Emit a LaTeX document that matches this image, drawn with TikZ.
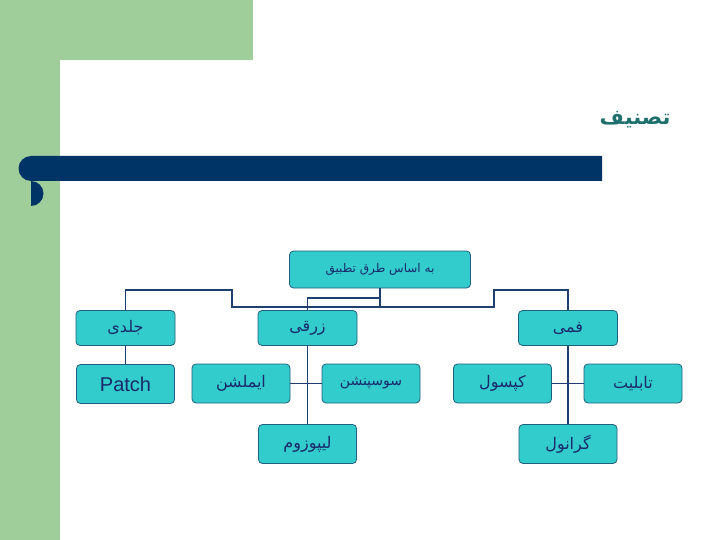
\documentclass[tikz,border=0pt]{standalone}
\usepackage{fontspec}
\setmainfont{Liberation Sans}
\newfontfamily\arabicfont[Script=Arabic]{DejaVu Sans}
\TeXXeTstate=1
\definecolor{bgreen}{HTML}{9FCE9A}
\definecolor{bar}{HTML}{003366}
\definecolor{ttl}{HTML}{1F6F6F}
\definecolor{boxfill}{HTML}{33CCCC}
\definecolor{boxline}{HTML}{1F5F7F}
\definecolor{txt}{HTML}{1A2A6A}
\definecolor{wire}{HTML}{1F3F6F}
\begin{document}
\begin{tikzpicture}[x=1pt,y=-1pt,
  bx/.style={draw=boxline,line width=0.8pt,fill=boxfill,rounded corners=4pt,inner sep=0pt,text=txt},
  wr/.style={draw=wire,line width=1.6pt}]
\useasboundingbox (0,0) rectangle (720,540);
\fill[white] (0,0) rectangle (720,540);
\fill[bgreen] (0,0) rectangle (60,540);
\fill[bgreen] (0,0) rectangle (253,60);
\fill[white] (60,540) -- (60,82) arc[start angle=180,end angle=90,radius=22] -- (253,60) -- (253,540) -- cycle;
\fill[white] (253,60) rectangle (720,540);
\fill[bar] (31,156) -- (602,156) -- (602,181) -- (31,181) arc[start angle=90,end angle=270,radius=-12.5] -- cycle;
\fill[bar] (31,168.5) circle[radius=12.5];
\node[text=ttl,font=\arabicfont\bfseries\fontsize{21}{24}\selectfont,anchor=east] (title) at (674,120) {\beginR تصنيف\endR};
\def\B#1#2#3#4#5#6{\node[bx,minimum width=#3-#1,minimum height=#4-#2,font=#6] (#5) at ({(#1+#3)/2},{(#2+#4)/2}) {};}
\node[bx,minimum width=181,minimum height=37,font=\arabicfont\fontsize{12}{14}\selectfont] (root) at (380,269.5) {\beginR به اساس طرق تطبیق\endR};
\tikzset{big/.style={bx,minimum width=99,minimum height=35,font=\arabicfont\fontsize{16}{18}\selectfont},
 big2/.style={bx,minimum width=98,minimum height=39,font=\arabicfont\fontsize{16}{18}\selectfont}}
\node[big] (jaldi) at (125.5,328) {\beginR جلدی\endR};
\node[big] (zarqi) at (307.5,328) {\beginR زرقی\endR};
\node[big] (fami) at (568,328) {\beginR فمی\endR};
\node[big2,font=\fontsize{20}{22}\selectfont] (patch) at (125.5,384) {Patch};
\node[big2] (emul) at (241,383.5) {\beginR ایملشن\endR};
\node[big2,font=\arabicfont\fontsize{14}{16}\selectfont] (susp) at (371,383.5) {\beginR سوسپنشن\endR};
\node[big2] (lipo) at (307.5,444) {\beginR لیپوزوم\endR};
\node[big2] (caps) at (502.5,383.5) {\beginR کپسول\endR};
\node[big2] (tab) at (633,383.5) {\beginR تابلیت\endR};
\node[big2] (gran) at (568,444) {\beginR گرانول\endR};
\coordinate (m) at (380,307);
\draw[wr] (root.south) -- (m);
\draw[wr] (380,298) -| (zarqi.north);
\draw[wr] (jaldi.north) |- (232,290) -- (232,307) -- (494,307) -- (494,290) -| (fami.north);
\draw[wr] (jaldi) -- (patch);
\draw[wr] (zarqi) -- (lipo);
\draw[wr] (emul) -- (susp);
\draw[wr] (fami) -- (gran);
\draw[wr] (caps) -- (tab);
\end{tikzpicture}
\end{document}
